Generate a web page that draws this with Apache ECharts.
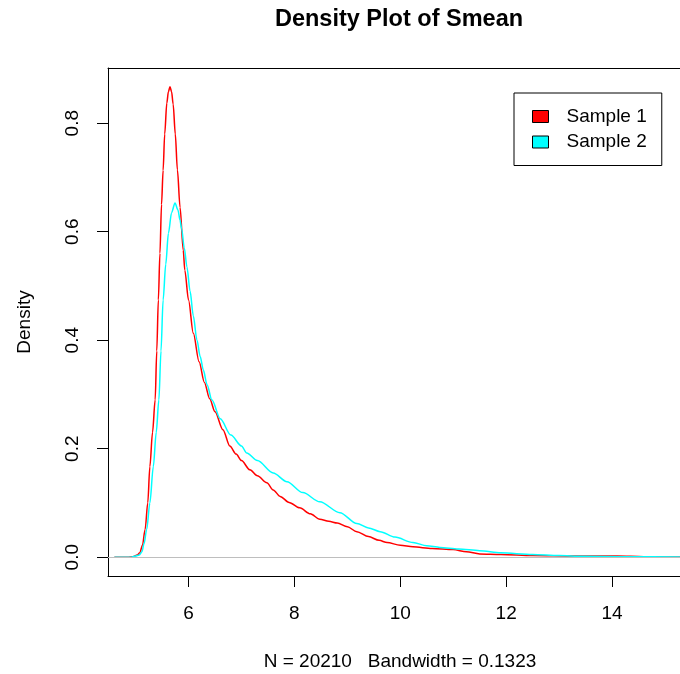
<!DOCTYPE html>
<html>
<head>
<meta charset="utf-8">
<script src="https://cdn.jsdelivr.net/npm/echarts@6/dist/echarts.min.js"></script>
<style>html,body{margin:0;padding:0;background:#fff;overflow:hidden;}#c{width:680px;height:674px;}</style>
</head>
<body>
<div id="c"></div>
<script>
// ---- data ----
var title = 'Density Plot of Smean';
var subtitle = 'N = 20210   Bandwidth = 0.1323';
var yName = 'Density';
var seriesNames = ['Sample 1', 'Sample 2'];
var seriesColors = ['#ff0000', '#00ffff'];
var xTicks = [6, 8, 10, 12, 14];
var yTicks = [0, 0.2, 0.4, 0.6, 0.8];

var s1x = [4.60, 4.85, 4.95, 5.03, 5.08, 5.13, 5.18, 5.23, 5.27, 5.32, 5.37, 5.40, 5.43, 5.46, 5.49, 5.52, 5.55, 5.59, 5.62, 5.65, 5.68, 5.71, 5.75, 5.79, 5.84, 5.90, 5.93, 6.00, 6.09, 6.20, 6.30, 6.40, 6.50, 6.65, 6.78, 6.90, 7.00, 7.16, 7.30, 7.48, 7.60, 7.73, 7.90, 8.10, 8.30, 8.48, 8.65, 8.81, 9.00, 9.18, 9.40, 9.60, 9.75, 10.00, 10.24, 10.60, 11.00, 11.25, 11.50, 11.90, 12.50, 13.30, 14.10, 14.60, 15.04, 15.47];
var s1y = [0.000, 0.000, 0.001, 0.004, 0.008, 0.022, 0.051, 0.100, 0.167, 0.230, 0.290, 0.380, 0.474, 0.560, 0.650, 0.713, 0.780, 0.837, 0.858, 0.867, 0.858, 0.835, 0.780, 0.714, 0.645, 0.566, 0.529, 0.474, 0.413, 0.360, 0.322, 0.292, 0.268, 0.235, 0.205, 0.190, 0.178, 0.161, 0.150, 0.137, 0.124, 0.112, 0.101, 0.091, 0.080, 0.070, 0.066, 0.063, 0.056, 0.047, 0.038, 0.031, 0.027, 0.022, 0.019, 0.016, 0.014, 0.010, 0.006, 0.005, 0.003, 0.002, 0.002, 0.001, 0.0004, 0.0001];

var s2x = [4.60, 4.90, 5.00, 5.07, 5.12, 5.16, 5.21, 5.27, 5.335, 5.39, 5.44, 5.48, 5.52, 5.57, 5.62, 5.68, 5.745, 5.80, 5.84, 5.87, 5.92, 5.97, 6.03, 6.09, 6.16, 6.22, 6.28, 6.35, 6.44, 6.60, 6.80, 7.00, 7.10, 7.30, 7.60, 7.86, 8.16, 8.48, 8.86, 9.18, 9.40, 9.62, 9.90, 10.24, 10.50, 10.75, 11.10, 11.50, 11.90, 12.50, 13.00, 13.45, 14.20, 15.47];
var s2y = [0.000, 0.000, 0.002, 0.004, 0.010, 0.025, 0.051, 0.100, 0.167, 0.230, 0.290, 0.380, 0.474, 0.540, 0.597, 0.635, 0.653, 0.640, 0.621, 0.605, 0.570, 0.535, 0.490, 0.445, 0.400, 0.370, 0.345, 0.318, 0.290, 0.255, 0.225, 0.205, 0.192, 0.178, 0.155, 0.139, 0.119, 0.102, 0.082, 0.062, 0.054, 0.047, 0.037, 0.027, 0.021, 0.018, 0.015, 0.012, 0.008, 0.005, 0.003, 0.0015, 0.001, 0.0004];

function pairs(xs, ys) { var out = []; for (var i = 0; i < xs.length; i++) out.push([xs[i], ys[i]]); return out; }

var FONT = '"Liberation Sans", Arial, Helvetica, sans-serif';
var FS = 19;
var XMIN = 4.479, XMAX = 15.284, YMIN = -0.0347, YMAX = 0.9017;
var chart = echarts.init(document.getElementById('c'), null, {renderer: 'canvas'});

var option = {
  backgroundColor: '#ffffff',
  animation: false,
  textStyle: {fontFamily: FONT},
  grid: {left: 108, top: 68, right: 0, bottom: 98, show: false, containLabel: false},
  xAxis: [{
    type: 'value', min: XMIN, max: XMAX, position: 'bottom',
    axisLine: {show: true, onZero: false, lineStyle: {color: '#000', width: 1}},
    splitLine: {show: false},
    axisTick: {show: true, inside: false, length: 11, customValues: xTicks, lineStyle: {color: '#000', width: 1}},
    axisLabel: {show: true, customValues: xTicks, margin: 28, fontSize: FS, color: '#000', fontFamily: FONT}
  }, {
    type: 'value', min: XMIN, max: XMAX, position: 'top',
    axisLine: {show: true, onZero: false, lineStyle: {color: '#000', width: 1}},
    splitLine: {show: false}, axisTick: {show: false}, axisLabel: {show: false}
  }],
  yAxis: {
    type: 'value', min: YMIN, max: YMAX, position: 'left',
    axisLine: {show: true, onZero: false, lineStyle: {color: '#000', width: 1}},
    splitLine: {show: false},
    axisTick: {show: true, inside: false, length: 11, customValues: yTicks, lineStyle: {color: '#000', width: 1}},
    axisLabel: {show: true, customValues: yTicks, rotate: 90, margin: 26, fontSize: FS, color: '#000', fontFamily: FONT,
      formatter: function (v) { return v.toFixed(1); }}
  },
  legend: {
    show: true, orient: 'vertical', left: 514, top: 93,
    padding: [14, 15, 14, 18], itemGap: 6.5, itemWidth: 16, itemHeight: 12,
    borderColor: '#000', borderWidth: 1, backgroundColor: '#fff',
    icon: 'rect',
    itemStyle: {borderColor: '#000', borderWidth: 1},
    textStyle: {fontSize: FS, lineHeight: 19, color: '#000', fontFamily: FONT, padding: [0, 0, 0, 13]},
    data: seriesNames
  },
  series: [
    {
      name: seriesNames[0], type: 'line', data: pairs(s1x, s1y),
      showSymbol: false, smooth: 0.3, smoothMonotone: 'x',
      lineStyle: {color: seriesColors[0], width: 1.5},
      itemStyle: {color: seriesColors[0]},
      z: 2,
      markLine: {silent: true, symbol: 'none', label: {show: false},
        lineStyle: {color: '#bebebe', width: 1, type: 'solid'},
        data: [{yAxis: 0}]}
    },
    {
      name: seriesNames[1], type: 'line', data: pairs(s2x, s2y),
      showSymbol: false, smooth: 0.3, smoothMonotone: 'x',
      lineStyle: {color: seriesColors[1], width: 1.5},
      itemStyle: {color: seriesColors[1]},
      z: 3
    }
  ],
  graphic: [
    {type: 'text', x: 399, y: 20, style: {text: title, font: 'bold 23.5px ' + FONT, fill: '#000', textAlign: 'center', textVerticalAlign: 'middle'}},
    {type: 'text', x: 400, y: 662, style: {text: subtitle, font: FS + 'px ' + FONT, fill: '#000', textAlign: 'center', textVerticalAlign: 'middle'}},
    {type: 'text', x: 25, y: 322, rotation: Math.PI / 2, style: {text: yName, font: FS + 'px ' + FONT, fill: '#000', textAlign: 'center', textVerticalAlign: 'middle'}}
  ]
};
chart.setOption(option);
</script>
</body>
</html>
